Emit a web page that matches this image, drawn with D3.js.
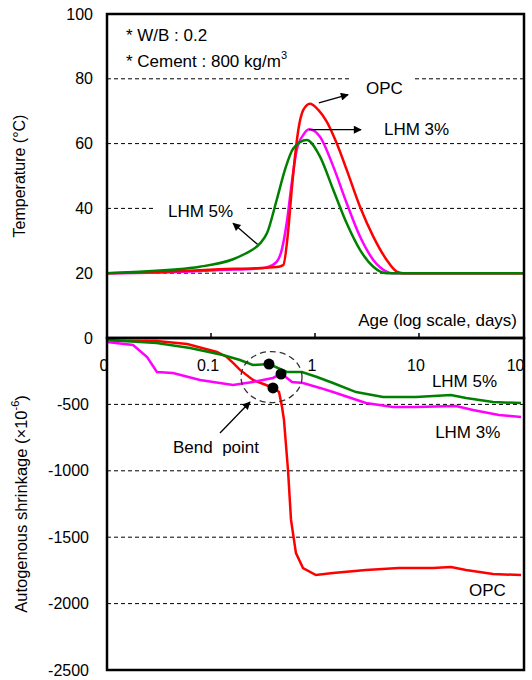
<!DOCTYPE html>
<html>
	<head>
		<title>Temperature and autogenous shrinkage</title>
		<script src="https://d3js.org/d3.v7.min.js" charset="utf-8"></script>
		<style>
			body { margin: 0; background: #fff; }
			text { font-family: Arial, "Liberation Sans", sans-serif; fill: #000; }
		</style>
	</head>
	<body>
		<svg id="chart" width="532" height="680"></svg>

		<script type="text/javascript">
			// ---- data: [age (days), value] ----
			var tempOPC = [[0.01,20],[0.04,20.5],[0.12,21.2],[0.3,21.6],[0.45,22],[0.4955,22.5],[0.553,33.3],[0.597,45.7],[0.642,56],[0.691,64.2],[0.772,70.4],[0.895,72.3],[1.076,70.4],[1.296,66.8],[1.617,60.1],[2.018,51.9],[2.709,40.5],[3.636,31.3],[4.89,24.1],[6.1,20.5],[7.0,20],[100,20]];
			var tempLHM3 = [[0.01,20],[0.04,20.3],[0.12,21],[0.3,21.5],[0.345,21.8],[0.428,23.5],[0.479,27.2],[0.534,35.4],[0.597,47.7],[0.667,58],[0.772,62.7],[0.881,64.4],[1.117,62.1],[1.5,52.9],[2.018,41.6],[2.709,31.3],[3.636,24.1],[4.89,20.5],[5.5,20],[100,20]];
			var tempLHM5 = [[0.01,20],[0.018,20.4],[0.078,22],[0.163,24.3],[0.213,26],[0.296,29.2],[0.345,32.3],[0.428,42.6],[0.514,51.9],[0.618,58.5],[0.832,61.1],[1.117,56],[1.5,45.7],[2.018,35.4],[2.709,27.2],[3.636,22],[4.89,20],[100,20]];

			var shrOPC = [[0.01,-20],[0.03,-23],[0.059,-45],[0.114,-105],[0.142,-143],[0.163,-188],[0.19,-240],[0.253,-316],[0.338,-354],[0.394,-376],[0.451,-407],[0.482,-520],[0.503,-617],[0.55,-994],[0.588,-1370],[0.656,-1620],[0.767,-1732],[1.02,-1785],[1.49,-1770],[3.09,-1747],[6.42,-1732],[13.6,-1732],[20.3,-1725],[28.3,-1747],[51.5,-1777],[95.7,-1785]];
			var shrLHM3 = [[0.01,-30],[0.0178,-53],[0.0243,-143],[0.0302,-256],[0.0431,-264],[0.0784,-316],[0.163,-354],[0.253,-331],[0.394,-301],[0.471,-271],[0.538,-301],[0.601,-331],[0.767,-339],[1.117,-376],[1.49,-407],[3.09,-489],[5.62,-520],[9.35,-520],[22.7,-512],[33.0,-542],[58.8,-580],[95.7,-595]];
			var shrLHM5 = [[0.01,-15],[0.03,-38],[0.063,-75],[0.13,-128],[0.19,-166],[0.253,-203],[0.361,-196],[0.538,-256],[0.75,-256],[1.045,-294],[1.49,-339],[2.48,-407],[4.51,-444],[9.35,-444],[20.3,-429],[28.3,-452],[51.5,-482],[95.7,-490]];

			// bend points on the shrinkage curves
			var bendPoints = [[0.361,-196],[0.471,-271],[0.394,-376]];

			var xTicks = [0.01, 0.1, 1, 10, 100];
			var xTickLabels = ["0", "0.1", "1", "10", "100"];
			var tempTicks = [0, 20, 40, 60, 80, 100];
			var shrTicks = [-500, -1000, -1500, -2000, -2500];
			var shrGrid = [-500, -1000, -1500, -2000];
			var tempGrid = [20, 40, 60, 80];

			var colors = { OPC: "#ff0000", LHM3: "#ff00ff", LHM5: "#008000" };

			var svg = d3.select("#chart");
			var left = 107, right = 524, top1 = 14, mid = 338, bottom = 670;
			var fs = 17;

			var x = d3.scaleLog().domain([0.01, 100]).range([left, right - 1]);
			var yT = d3.scaleLinear().domain([0, 100]).range([mid, top1]);
			var yS = d3.scaleLinear().domain([0, -2500]).range([mid, bottom]);

			svg.append("defs").append("marker")
				.attr("id", "arrow").attr("viewBox", "0 0 10 10")
				.attr("refX", 9).attr("refY", 5)
				.attr("markerWidth", 10).attr("markerHeight", 8)
				.attr("markerUnits", "userSpaceOnUse")
				.attr("orient", "auto")
				.append("path").attr("d", "M0,0 L10,5 L0,10 Z").attr("fill", "#000");

			svg.append("rect").attr("width", 532).attr("height", 680).attr("fill", "#fff");

			// ---- grid lines ----
			svg.selectAll(".tgrid").data(tempGrid).enter().append("line")
				.attr("x1", left).attr("x2", right)
				.attr("y1", function(d) { return yT(d); }).attr("y2", function(d) { return yT(d); })
				.attr("stroke", "#000").attr("stroke-width", 1).attr("stroke-dasharray", "4,3");
			svg.selectAll(".sgrid").data(shrGrid).enter().append("line")
				.attr("x1", left).attr("x2", right)
				.attr("y1", function(d) { return yS(d); }).attr("y2", function(d) { return yS(d); })
				.attr("stroke", "#000").attr("stroke-width", 1).attr("stroke-dasharray", "4,3");

			// ---- top panel labels with white boxes (they break the grid) ----
			function boxLabel(t, v, txt) {
				var g = svg.append("g");
				var el = g.append("text").attr("x", x(t)).attr("y", yT(v))
					.attr("dominant-baseline", "central").attr("font-size", fs).text(txt);
				var bb = el.node().getBBox();
				g.insert("rect", "text").attr("x", bb.x - 15).attr("y", bb.y - 4)
					.attr("width", bb.width + 26).attr("height", bb.height + 8).attr("fill", "#fff");
			}
			boxLabel(3.09, 76.9, "OPC");
			boxLabel(0.0386, 39, "LHM 5%");

			// ---- lines ----
			var lineT = d3.line().x(function(d) { return x(d[0]); }).y(function(d) { return yT(d[1]); }).curve(d3.curveMonotoneX);
			var lineS = d3.line().x(function(d) { return x(d[0]); }).y(function(d) { return yS(d[1]); });

			[[tempLHM3, colors.LHM3], [tempOPC, colors.OPC], [tempLHM5, colors.LHM5]].forEach(function(s) {
				svg.append("path").attr("d", lineT(s[0])).attr("fill", "none")
					.attr("stroke", s[1]).attr("stroke-width", 2.5);
			});
			[[shrOPC, colors.OPC], [shrLHM5, colors.LHM5], [shrLHM3, colors.LHM3]].forEach(function(s) {
				svg.append("path").attr("d", lineS(s[0])).attr("fill", "none")
					.attr("stroke", s[1]).attr("stroke-width", 2.5);
			});

			// ---- frames ----
			svg.append("rect").attr("x", left).attr("y", top1).attr("width", right - left).attr("height", mid - top1)
				.attr("fill", "none").attr("stroke", "#000").attr("stroke-width", 2.5);
			svg.append("rect").attr("x", left).attr("y", mid).attr("width", right - left).attr("height", bottom - mid)
				.attr("fill", "none").attr("stroke", "#000").attr("stroke-width", 2.5);

			// x ticks point up into the top panel
			svg.selectAll(".xtick").data(xTicks.slice(1, 4)).enter().append("line")
				.attr("x1", function(d) { return x(d); }).attr("x2", function(d) { return x(d); })
				.attr("y1", mid).attr("y2", mid - 5)
				.attr("stroke", "#000").attr("stroke-width", 1.5);

			// x tick labels sit inside the lower panel
			svg.append("clipPath").attr("id", "clipX").append("rect")
				.attr("x", 0).attr("y", 340).attr("width", right).attr("height", 40);
			svg.append("clipPath").attr("id", "clipZero").append("rect")
				.attr("x", 0).attr("y", 340).attr("width", left).attr("height", 40);
			svg.selectAll(".xlab").data(xTicks).enter().append("text")
				.attr("x", function(d) { return x(d) - 3; }).attr("y", 371)
				.attr("text-anchor", "middle").attr("font-size", 16)
				.attr("clip-path", function(d, i) { return i == 0 ? "url(#clipZero)" : "url(#clipX)"; })
				.text(function(d, i) { return xTickLabels[i]; });

			// y tick labels
			svg.selectAll(".ytl").data(tempTicks).enter().append("text")
				.attr("x", 93).attr("y", function(d) { return yT(d); })
				.attr("dominant-baseline", "central").attr("text-anchor", "end").attr("font-size", 16)
				.text(function(d) { return d; });
			svg.selectAll(".ysl").data(shrTicks).enter().append("text")
				.attr("x", 89).attr("y", function(d) { return yS(d); })
				.attr("dominant-baseline", "central").attr("text-anchor", "end").attr("font-size", 16)
				.text(function(d) { return d; });

			// axis titles
			svg.append("text").attr("transform", "translate(19," + yT(50) + ") rotate(-90)")
				.attr("text-anchor", "middle").attr("dominant-baseline", "central").attr("font-size", 16)
				.text("Temperature (°C)");
			var st = svg.append("text").attr("transform", "translate(21," + yS(-1250) + ") rotate(-90)")
				.attr("text-anchor", "middle").attr("dominant-baseline", "central").attr("font-size", 16.5);
			st.append("tspan").text("Autogenous shrinkage (×10");
			st.append("tspan").attr("dy", -6).attr("font-size", 11).text("-6");
			st.append("tspan").attr("dy", 6).text(")");

			svg.append("text").attr("x", right - 7).attr("y", yT(5.5))
				.attr("text-anchor", "end").attr("dominant-baseline", "central").attr("font-size", fs)
				.text("Age (log scale, days)");

			// mix notes
			svg.append("text").attr("x", x(0.0152)).attr("y", yT(93.5))
				.attr("dominant-baseline", "central").attr("font-size", fs).text("* W/B : 0.2");
			var cm = svg.append("text").attr("x", x(0.0152)).attr("y", yT(85.5))
				.attr("dominant-baseline", "central").attr("font-size", fs);
			cm.append("tspan").text("* Cement : 800 kg/m");
			cm.append("tspan").attr("dy", -6).attr("font-size", 11).text("3");

			// ---- top annotations ----
			function arrow(sx, yScale, t1, v1, t2, v2) {
				svg.append("line").attr("x1", sx(t1)).attr("y1", yScale(v1)).attr("x2", sx(t2)).attr("y2", yScale(v2))
					.attr("stroke", "#000").attr("stroke-width", 1.3).attr("marker-end", "url(#arrow)");
			}
			arrow(x, yT, 1.09, 72.6, 2.08, 75.1);
			arrow(x, yT, 0.875, 64.3, 2.77, 64.3);
			arrow(x, yT, 0.28, 28.9, 0.163, 35.4);
			svg.append("text").attr("x", x(4.6)).attr("y", yT(64.3))
				.attr("dominant-baseline", "central").attr("font-size", fs).text("LHM 3%");

			// ---- bottom annotations ----
			svg.append("ellipse").attr("cx", x(0.382)).attr("cy", yS(-294))
				.attr("rx", 30.5).attr("ry", 25.5)
				.attr("fill", "none").attr("stroke", "#333").attr("stroke-width", 1.3).attr("stroke-dasharray", "6,4");
			svg.selectAll(".bend").data(bendPoints).enter().append("circle")
				.attr("cx", function(d) { return x(d[0]); }).attr("cy", function(d) { return yS(d[1]); })
				.attr("r", 5.5).attr("fill", "#000");
			arrow(x, yS, 0.122, -715, 0.237, -482);
			svg.append("text").attr("x", x(0.0431)).attr("y", yS(-821))
				.attr("dominant-baseline", "central").attr("font-size", fs).attr("xml:space", "preserve").text("Bend  point");
			svg.append("text").attr("x", x(13.3)).attr("y", yS(-331))
				.attr("dominant-baseline", "central").attr("font-size", fs).text("LHM 5%");
			svg.append("text").attr("x", x(14.3)).attr("y", yS(-715))
				.attr("dominant-baseline", "central").attr("font-size", fs).text("LHM 3%");
			svg.append("text").attr("x", x(30.2)).attr("y", yS(-1905))
				.attr("dominant-baseline", "central").attr("font-size", fs).text("OPC");
		</script>
	</body>
</html>
